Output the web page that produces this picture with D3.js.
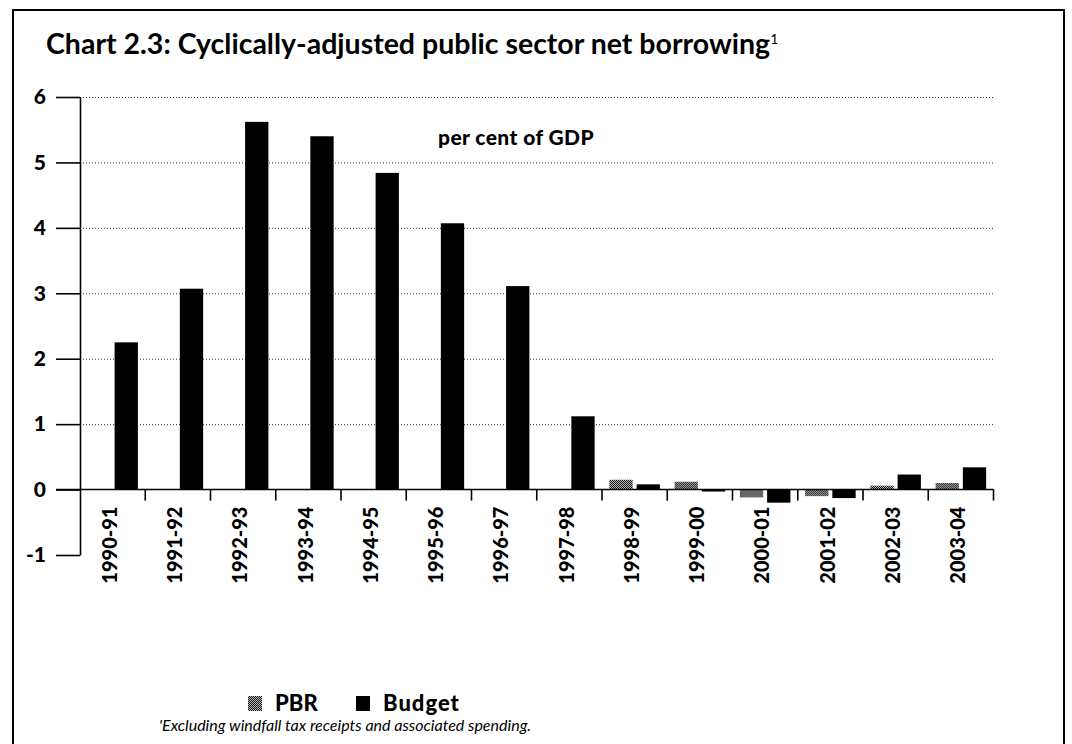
<!DOCTYPE html>
<html>
<head>
<meta charset="utf-8">
<script src="https://cdn.jsdelivr.net/npm/d3@7"></script>
<style>
  html, body { margin: 0; padding: 0; background: #fff; }
  text { font-family: Lato, "Open Sans", sans-serif; fill: #000; }
</style>
</head>
<body>
<div id="chart"></div>
<script>
const categories = ["1990-91", "1991-92", "1992-93", "1993-94", "1994-95", "1995-96", "1996-97",
  "1997-98", "1998-99", "1999-00", "2000-01", "2001-02", "2002-03", "2003-04"];
const seriesNames = ["PBR", "Budget"];
const pbrValues = [null, null, null, null, null, null, null, null, 0.15, 0.12, -0.12, -0.1, 0.06, 0.1];
const budgetValues = [2.25, 3.07, 5.62, 5.4, 4.84, 4.07, 3.11, 1.12, 0.08, -0.03, -0.2, -0.13, 0.23, 0.34];
const yTicks = [-1, 0, 1, 2, 3, 4, 5, 6];
const gridTicks = [1, 2, 3, 4, 5, 6];

const W = 1072, H = 744;
const svg = d3.select("#chart").append("svg")
  .attr("width", W)
  .attr("height", H);

// stippled fill for PBR
const defs = svg.append("defs");
const pat = defs.append("pattern")
  .attr("id", "stipple")
  .attr("width", 2).attr("height", 2)
  .attr("patternUnits", "userSpaceOnUse");
pat.append("rect").attr("width", 2).attr("height", 2).attr("fill", "#bbb");
pat.append("rect").attr("width", 1).attr("height", 1).attr("fill", "#111");
pat.append("rect").attr("x", 1).attr("y", 1).attr("width", 1).attr("height", 1).attr("fill", "#111");

// outer frame
svg.append("rect")
  .attr("x", 13).attr("y", 10)
  .attr("width", 1051).attr("height", 760)
  .attr("fill", "none")
  .attr("stroke", "#000")
  .attr("stroke-width", 2);

const rows = categories.map((c, i) => ({ cat: c, PBR: pbrValues[i], Budget: budgetValues[i] }));

const x = d3.scaleBand().domain(categories).range([80, 993.5]).padding(0);
const xs = d3.scaleBand().domain(seriesNames).range([0, x.bandwidth()])
  .paddingInner(0.145).paddingOuter(0.27);
const y = d3.scaleLinear().domain([-1, 6]).range([555, 97]);

// grid
svg.append("g")
  .attr("transform", "translate(80,0)")
  .call(d3.axisLeft(y).tickValues(gridTicks).tickSize(-(993.5 - 80)).tickFormat(""))
  .call(g => g.select(".domain").remove())
  .call(g => g.selectAll(".tick line")
    .attr("stroke", "#333")
    .attr("stroke-width", 1)
    .attr("stroke-dasharray", "1,2"));

// bars
const groups = svg.append("g").selectAll("g")
  .data(rows)
  .join("g")
  .attr("transform", d => `translate(${x(d.cat)},0)`);

groups.selectAll("rect")
  .data(d => seriesNames.map(s => ({ key: s, value: d[s] })).filter(v => v.value !== null))
  .join("rect")
  .attr("x", d => xs(d.key))
  .attr("width", xs.bandwidth())
  .attr("y", d => y(Math.max(0, d.value)))
  .attr("height", d => Math.abs(y(d.value) - y(0)))
  .attr("fill", d => d.key === "PBR" ? "url(#stipple)" : "#000");

// y axis
svg.append("g")
  .attr("transform", "translate(80,0)")
  .call(d3.axisLeft(y).tickValues(yTicks).tickSize(24).tickSizeOuter(0).tickPadding(10)
    .tickFormat(d => String(d)))
  .call(g => g.select(".domain").attr("stroke", "#000").attr("stroke-width", 1.6))
  .call(g => g.selectAll(".tick line").attr("stroke", "#000").attr("stroke-width", 1.6))
  .call(g => g.selectAll(".tick text")
    .style("font-family", "Lato, sans-serif")
    .style("font-size", "21px")
    .style("font-weight", "900")
    .attr("fill", "#000"));

// zero line
svg.append("line")
  .attr("x1", 56).attr("x2", 993.5)
  .attr("y1", y(0)).attr("y2", y(0))
  .attr("stroke", "#000")
  .attr("stroke-width", 1.6);

// ticks between categories
svg.append("g").selectAll("line")
  .data(categories)
  .join("line")
  .attr("x1", d => x(d) + x.bandwidth())
  .attr("x2", d => x(d) + x.bandwidth())
  .attr("y1", y(0))
  .attr("y2", y(0) + 11)
  .attr("stroke", "#000")
  .attr("stroke-width", 1.6);

// category labels
svg.append("g")
  .attr("transform", `translate(0,${y(0)})`)
  .call(d3.axisBottom(x).tickSize(0).tickPadding(0))
  .call(g => g.select(".domain").remove())
  .call(g => g.selectAll(".tick text")
    .attr("transform", "translate(-3,17) rotate(-90)")
    .attr("text-anchor", "end")
    .attr("x", 0).attr("y", 0)
    .attr("dy", "0.36em")
    .style("font-family", "Lato, sans-serif")
    .style("font-size", "20px")
    .style("font-weight", "900")
    .attr("fill", "#000"));

// title
const title = svg.append("text")
  .attr("x", 46).attr("y", 54)
  .style("font-size", "28.5px")
  .style("font-weight", "700")
  .text("Chart 2.3: Cyclically-adjusted public sector net borrowing");
title.append("tspan")
  .attr("dy", "-0.75em")
  .style("font-size", "14px")
  .style("font-weight", "400")
  .text("1");

svg.append("text")
  .attr("x", 438).attr("y", 145)
  .style("font-size", "21px")
  .style("font-weight", "900")
  .style("letter-spacing", "0.4px")
  .text("per cent of GDP");

// legend
const legend = svg.append("g").attr("transform", "translate(248,695)");
const legendItems = legend.selectAll("g")
  .data(seriesNames)
  .join("g")
  .attr("transform", (d, i) => `translate(${i * 108},0)`);
legendItems.append("rect")
  .attr("y", 1)
  .attr("width", 14).attr("height", 15)
  .attr("fill", d => d === "PBR" ? "url(#stipple)" : "#000");
legendItems.append("text")
  .attr("x", 27).attr("y", 16)
  .style("font-size", "22px")
  .style("font-weight", "900")
  .style("letter-spacing", d => d === "Budget" ? "1px" : "0px")
  .text(d => d);

// footnote
svg.append("text")
  .attr("x", 159).attr("y", 731)
  .style("font-size", "16px")
  .style("font-style", "italic")
  .text("'Excluding windfall tax receipts and associated spending.");
</script>
</body>
</html>
